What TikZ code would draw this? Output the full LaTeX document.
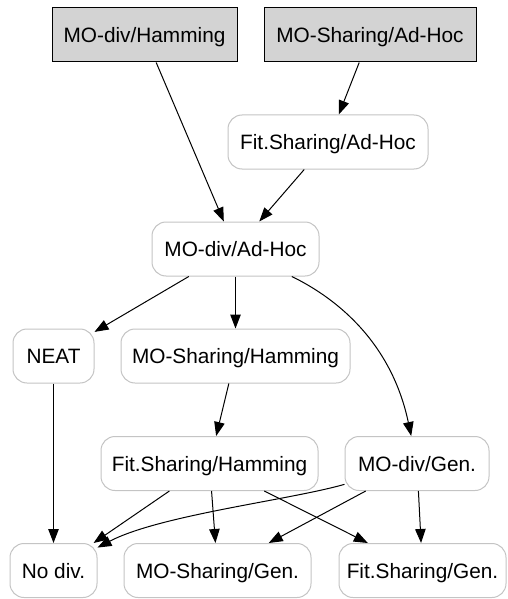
\documentclass[tikz,border=0pt]{standalone}
\usepackage{fontspec}
\setmainfont{Liberation Sans}
\usetikzlibrary{arrows.meta}
\definecolor{boxgray}{HTML}{D3D3D3}
\definecolor{edgegray}{HTML}{C4C4C4}
\begin{document}
\begin{tikzpicture}[x=1pt,y=-1pt,
  base/.style={inner sep=0pt, minimum height=54pt, text height=15pt, text depth=0pt,
    font=\fontsize{20.8}{25}\selectfont, line width=1pt},
  srcbox/.style={base, draw=black, fill=boxgray},
  roundbox/.style={base, draw=edgegray, fill=white, rounded corners=14pt},
  link/.style={line width=1pt, -{Triangle[length=14pt,width=10.5pt]}}]
\useasboundingbox (0,0) rectangle (507,599);

% source configurations
\node[srcbox, minimum width=185pt] (hamming) at (144.5,35) {MO-div/Hamming};
\node[srcbox, minimum width=212pt] (shadhoc) at (370,35) {MO-Sharing/Ad-Hoc};

% derived configurations
\node[roundbox, minimum width=200pt] (fitadhoc) at (328,142) {Fit.Sharing/Ad-Hoc};
\node[roundbox, minimum width=167pt] (divadhoc) at (235.5,249) {MO-div/Ad-Hoc};
\node[roundbox, minimum width=81pt] (neat) at (53.5,356) {NEAT};
\node[roundbox, minimum width=229pt] (shham) at (235.5,356) {MO-Sharing/Hamming};
\node[roundbox, minimum width=217pt] (fitham) at (209.5,463.5) {Fit.Sharing/Hamming};
\node[roundbox, minimum width=144pt] (divgen) at (417,463.5) {MO-div/Gen.};
\node[roundbox, minimum width=87pt] (nodiv) at (53.5,570.5) {No div.};
\node[roundbox, minimum width=187pt] (shgen) at (217.5,570.5) {MO-Sharing/Gen.};
\node[roundbox, minimum width=167pt] (fitgen) at (422.5,570.5) {Fit.Sharing/Gen.};

% dominance edges
\draw[link] (hamming) -- (divadhoc);
\draw[link] (shadhoc) -- (fitadhoc);
\draw[link] (fitadhoc) -- (divadhoc);
\draw[link] (divadhoc) -- (neat);
\draw[link] (divadhoc) -- (shham);
\draw[link] (divadhoc) .. controls (340,300) and (392,345) .. (divgen);
\draw[link] (neat) -- (nodiv);
\draw[link] (shham) -- (fitham);
\draw[link] (fitham) -- (nodiv);
\draw[link] (fitham) -- (shgen);
\draw[link] (fitham) -- (fitgen);
\draw[link] (divgen) .. controls (290,500) and (160,515) .. (nodiv);
\draw[link] (divgen) -- (shgen);
\draw[link] (divgen) -- (fitgen);
\end{tikzpicture}
\end{document}
